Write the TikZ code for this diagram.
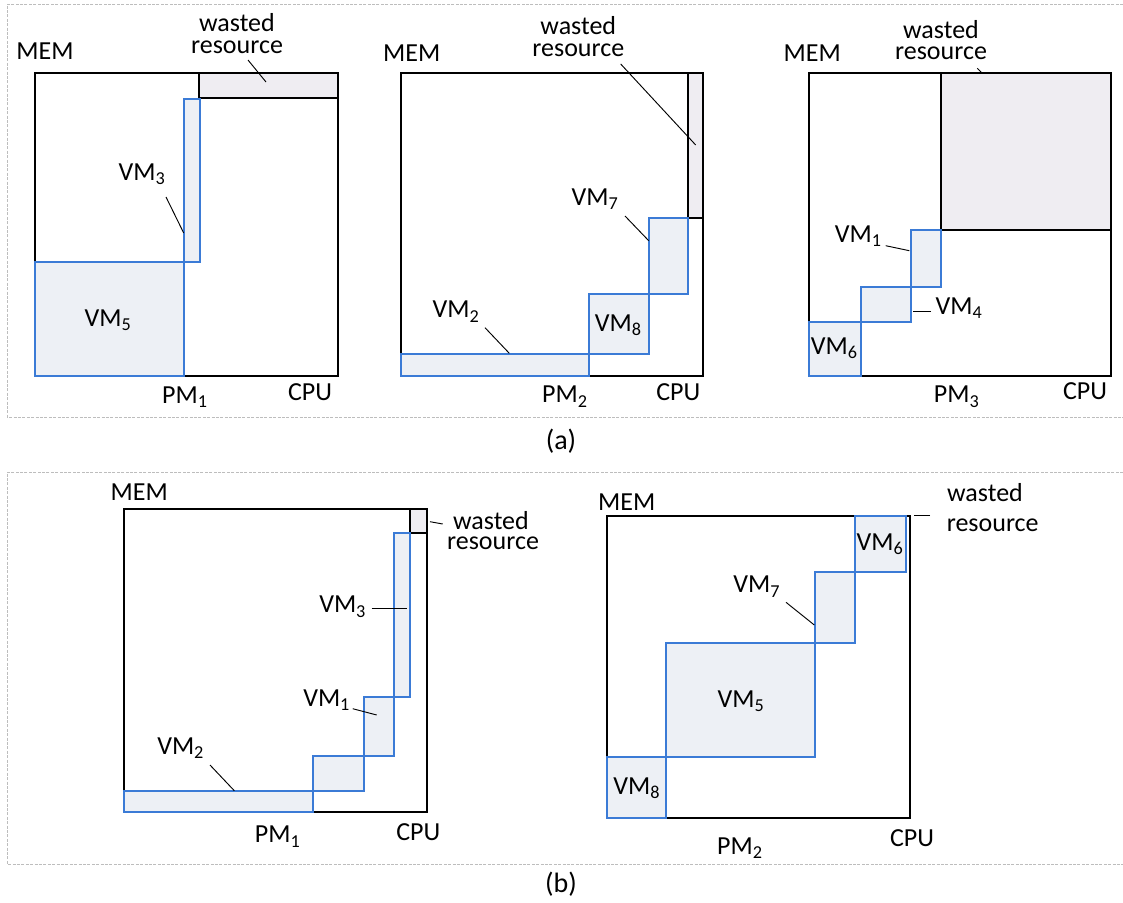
\documentclass[tikz,border=0pt]{standalone}
\usepackage{fontspec}
\setmainfont{Carlito}
\definecolor{vmblue}{HTML}{3B7BD6}
\definecolor{vmfill}{HTML}{EDF0F5}
\definecolor{wastefill}{HTML}{EFEDF2}
\definecolor{framegray}{HTML}{BDBDBD}
\newcommand{\vmsub}[1]{\textsubscript{#1}}
\begin{document}
\begin{tikzpicture}[x=0.75pt,y=-0.75pt,
  pm/.style={draw=black,line width=1.5pt},
  vm/.style={draw=vmblue,fill=vmfill,line width=1.4pt},
  waste/.style={draw=black,fill=wastefill,line width=1.5pt},
  lbl/.style={font=\fontsize{19.5}{22}\selectfont,inner sep=0pt},
  captext/.style={font=\fontsize{21}{24}\selectfont,inner sep=0pt},
  lead/.style={draw=black,line width=0.7pt},
  frame/.style={draw=framegray,dash pattern=on 2.2pt off 1.1pt,line width=0.6pt}]
\useasboundingbox (0,0) rectangle (1123,902);

% ---------- frames ----------
\draw[frame] (1123,4) -- (7,4) -- (7,417) -- (1123,417);
\draw[frame] (1123,472) -- (7,472) -- (7,864) -- (1123,864);
\node[captext] (capa) at (561,441) {(a)};
\node[captext] (capb) at (561,884) {(b)};

% ---------- (a) PM1 ----------
\draw[pm] (35,73) rectangle (337.7,375.7);
\draw[waste] (199.3,73) rectangle (337.7,98);
\draw[vm] (183.7,98.7) rectangle (199.7,262.3);
\draw[vm] (35,262.3) rectangle (183.7,375.7);
\node[lbl] (memA1) at (45,51) {MEM};
\node[lbl] (wA1a) at (237,23) {wasted};
\node[lbl] (wA1b) at (237,47) {resource};
\coordinate (wA1e) at (266,82);
\draw[lead] (248,60) -- (wA1e);
\node[lbl] (vm3A) at (142,174) {VM\vmsub{3}};
\coordinate (vm3Ae) at (183.7,233);
\draw[lead] (166,197) -- (vm3Ae);
\node[lbl] (vm5A) at (108,320) {VM\vmsub{5}};
\node[lbl] (pm1A) at (185,397) {PM\vmsub{1}};
\node[lbl] (cpuA1) at (310,392) {CPU};

% ---------- (a) PM2 ----------
\draw[pm] (400.7,73) rectangle (703.3,375.7);
\draw[waste] (687.7,73) rectangle (703.3,218.3);
\draw[vm] (648.7,218.3) rectangle (687.7,293.7);
\draw[vm] (589.3,293.7) rectangle (648.7,354);
\draw[vm] (400.7,354) rectangle (589.3,375.7);
\node[lbl] (memA2) at (411.7,53.3) {MEM};
\node[lbl] (wA2a) at (578.3,26) {wasted};
\node[lbl] (wA2b) at (578.3,50) {resource};
\coordinate (wA2e) at (695.7,145);
\draw[lead] (620.7,64) -- (wA2e);
\node[lbl] (vm7A) at (595,199.3) {VM\vmsub{7}};
\coordinate (vm7Ae) at (648.7,240.7);
\draw[lead] (625,216) -- (vm7Ae);
\node[lbl] (vm2A) at (456,311.7) {VM\vmsub{2}};
\coordinate (vm2Ae) at (509.3,353.3);
\draw[lead] (485,327.7) -- (vm2Ae);
\node[lbl] (vm8A) at (618.3,325) {VM\vmsub{8}};
\node[lbl] (pm2A) at (565,396.7) {PM\vmsub{2}};
\node[lbl] (cpuA2) at (678.3,391.7) {CPU};

% ---------- (a) PM3 ----------
\draw[pm] (809,73) rectangle (1111,375.7);
\draw[waste] (941,73) rectangle (1111,230);
\draw[vm] (911,230) rectangle (941,286.7);
\draw[vm] (860.7,286.7) rectangle (911,321.7);
\draw[vm] (809,321.7) rectangle (860.7,375.7);
\node[lbl] (memA3) at (812.3,53.3) {MEM};
\node[lbl] (wA3a) at (941,30) {wasted};
\node[lbl] (wA3b) at (941,53.5) {resource};
\coordinate (wA3e) at (981.7,72.7);
\draw[lead] (977.3,68.3) -- (wA3e);
\node[lbl] (vm1A) at (858.3,236) {VM\vmsub{1}};
\coordinate (vm1Ae) at (909.3,250.7);
\draw[lead] (885.7,245.7) -- (vm1Ae);
\node[lbl] (vm4A) at (959,308.3) {VM\vmsub{4}};
\coordinate (vm4Ae) at (913.3,311);
\draw[lead] (931,311) -- (vm4Ae);
\node[lbl] (vm6A) at (834.3,348.3) {VM\vmsub{6}};
\node[lbl] (pm3A) at (956.7,396.7) {PM\vmsub{3}};
\node[lbl] (cpuA3) at (1085,391) {CPU};

% ---------- (b) PM1 ----------
\draw[pm] (124,509.3) rectangle (426.7,811.7);
\draw[waste] (410,509.3) rectangle (426.7,532.7);
\draw[vm] (394.3,532.7) rectangle (410,696.7);
\draw[vm] (364.3,696.7) rectangle (394.3,755.7);
\draw[vm] (313.3,755.7) rectangle (364.3,790.7);
\draw[vm] (124,790.7) rectangle (313.3,811.7);
\node[lbl] (memB1) at (139.3,491.7) {MEM};
\node[lbl] (wB1a) at (491,520.5) {wasted};
\node[lbl] (wB1b) at (493,543.5) {resource};
\coordinate (wB1e) at (442.7,524);
\draw[lead] (430,521.7) -- (wB1e);
\node[lbl] (vm3B) at (342.7,606.7) {VM\vmsub{3}};
\coordinate (vm3Be) at (407.3,608.3);
\draw[lead] (371.7,608.3) -- (vm3Be);
\node[lbl] (vm1B) at (326.7,700) {VM\vmsub{1}};
\coordinate (vm1Be) at (376.7,715);
\draw[lead] (352.7,708.7) -- (vm1Be);
\node[lbl] (vm2B) at (180.7,748.3) {VM\vmsub{2}};
\coordinate (vm2Be) at (234.3,790.7);
\draw[lead] (210,765) -- (vm2Be);
\node[lbl] (pm1B) at (277.7,836.7) {PM\vmsub{1}};
\node[lbl] (cpuB1) at (418.3,831.7) {CPU};

% ---------- (b) PM2 ----------
\draw[pm] (607.3,516) rectangle (910,818.3);
\draw[vm] (854.7,516) rectangle (906,572.3);
\draw[vm] (815.3,572.3) rectangle (854.7,643.3);
\draw[vm] (666.3,643.3) rectangle (815.3,757.3);
\draw[vm] (607.3,757.3) rectangle (666.3,818.3);
\node[lbl] (memB2) at (626.7,501.7) {MEM};
\node[lbl] (wB2a) at (985,493) {wasted};
\node[lbl] (wB2b) at (992.7,525.5) {resource};
\coordinate (wB2e) at (914.3,515);
\draw[lead] (930,515) -- (wB2e);
\node[lbl] (vm7B) at (756.7,586.7) {VM\vmsub{7}};
\coordinate (vm7Be) at (814.3,625);
\draw[lead] (786,602.3) -- (vm7Be);
\node[lbl] (vm5B) at (741,701) {VM\vmsub{5}};
\node[lbl] (vm6B) at (880,544) {VM\vmsub{6}};
\node[lbl] (vm8B) at (636.7,788.3) {VM\vmsub{8}};
\node[lbl] (pm2B) at (740,848) {PM\vmsub{2}};
\node[lbl] (cpuB2) at (912,838) {CPU};
\end{tikzpicture}
\end{document}
